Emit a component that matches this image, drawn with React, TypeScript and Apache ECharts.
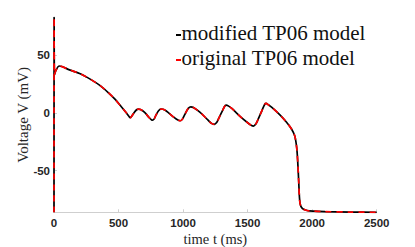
import React, { useEffect, useRef } from "react";
import * as echarts from "echarts";

const timeMs: number[] = [0, 1, 4, 12, 41, 120, 203, 290, 358, 420, 470, 520, 560, 580, 591, 602, 620, 640, 655, 670, 700, 740, 755, 763, 775, 790, 810, 828, 845, 870, 930, 960, 978, 995, 1020, 1040, 1060, 1080, 1132, 1190, 1220, 1241, 1260, 1280, 1310, 1325, 1334, 1350, 1380, 1450, 1510, 1530, 1545, 1562, 1580, 1615, 1632, 1643, 1660, 1690, 1752, 1800, 1840, 1865, 1880, 1888, 1896, 1906, 1925, 1960, 2009, 2100, 2300, 2500];
const modifiedV: number[] = [-86.2, 82.7, 33, 36, 40.5, 37.2, 33.8, 28.5, 23.5, 17.5, 12, 5.5, 0, -3, -4.3, -3, 0, 2.6, 3.2, 2.8, 0.5, -4.5, -6, -6.3, -5.5, -2, 1.8, 3.2, 3, 1.5, -4, -6.3, -6.9, -5.5, 0, 3.8, 5.2, 4.5, 0.3, -6, -9.2, -10, -8.5, -4, 3, 6, 6.7, 6, 3.5, -4, -9.5, -11, -11.5, -10, -6, 3, 7.2, 8.1, 7, 4.5, -2, -8, -14, -20, -30, -42, -60, -78.5, -83, -84.6, -85.2, -85.6, -86, -86.2];
const originalV: number[] = [-86.2, 82.7, 33, 36, 40.5, 37.2, 33.8, 28.5, 23.5, 17.5, 12, 5.5, 0, -3, -4.3, -3, 0, 2.6, 3.2, 2.8, 0.5, -4.5, -6, -6.3, -5.5, -2, 1.8, 3.2, 3, 1.5, -4, -6.3, -6.9, -5.5, 0, 3.8, 5.2, 4.5, 0.3, -6, -9.2, -10, -8.5, -4, 3, 6, 6.7, 6, 3.5, -4, -9.5, -11, -11.5, -10, -6, 3, 7.2, 8.1, 7, 4.5, -2, -8, -14, -20, -30, -42, -60, -78.5, -83, -84.6, -85.2, -85.6, -86, -86.2];
const yTicks: number[] = [-50, 0, 50];
const seriesNames: string[] = ["modified TP06 model", "original TP06 model"];
const seriesColors: string[] = ["#000000", "#ff0000"];

export default function App() {
  const ref = useRef<HTMLDivElement>(null);
  useEffect(() => {
    if (!ref.current) return;
    const chart = echarts.init(ref.current, null, { renderer: "svg" });
    const serif = "Times New Roman";
    const sans = "Arial";
    const legendGraphics: any[] = [];
    seriesNames.forEach((name, i) => {
      const cy = 35 + i * 25;
      legendGraphics.push({
        type: "rect",
        shape: { x: 176, y: cy - 1, width: 5, height: 2 },
        style: { fill: seriesColors[i] },
      });
      legendGraphics.push({
        type: "text",
        x: 181.5,
        y: cy - 2.5,
        style: { text: name, font: "21px 'Times New Roman', 'Liberation Serif', serif", fill: "#111111", align: "left", verticalAlign: "middle" },
      });
    });
    chart.setOption({
      animation: false,
      backgroundColor: "#ffffff",
      grid: { left: 54, right: 38.3, top: 17.3, bottom: 34.7, containLabel: false, outerBoundsMode: "none" },
      graphic: legendGraphics,
      xAxis: {
        type: "value",
        min: 0,
        max: 2500,
        interval: 500,
        name: "time t (ms)",
        nameLocation: "middle",
        nameGap: 19,
        nameMoveOverlap: false,
        nameTextStyle: { fontFamily: serif, fontSize: 14.5, color: "#262626" },
        axisLine: { show: true, onZero: false, lineStyle: { color: "#cfcfcf", width: 1 } },
        axisTick: { show: true, inside: true, length: 3, lineStyle: { color: "#cfcfcf" } },
        axisLabel: { fontFamily: sans, fontWeight: "bold", fontSize: 11.5, color: "#262626", margin: 5, formatter: (v: number) => String(v) },
        splitLine: { show: false },
      },
      yAxis: {
        type: "value",
        min: -86.2,
        max: 82.7,
        name: "Voltage V (mV)",
        nameLocation: "middle",
        nameGap: 24,
        nameMoveOverlap: false,
        nameRotate: 90,
        nameTextStyle: { fontFamily: serif, fontSize: 15, color: "#262626" },
        axisLine: { show: true, onZero: false, lineStyle: { color: "#cfcfcf", width: 1 } },
        axisTick: { show: true, inside: true, length: 3, customValues: yTicks, lineStyle: { color: "#cfcfcf" } },
        axisLabel: { fontFamily: sans, fontWeight: "bold", fontSize: 11.5, color: "#262626", margin: 4, customValues: yTicks, formatter: (v: number) => String(v) },
        splitLine: { show: false },
      },
      series: [
        {
          name: seriesNames[0],
          type: "line",
          data: timeMs.map((t, i) => [t, modifiedV[i]]),
          showSymbol: false,
          smooth: 0.3,
          color: seriesColors[0],
          lineStyle: { color: seriesColors[0], width: 1.7 },
          z: 2,
        },
        {
          name: seriesNames[1],
          type: "line",
          data: timeMs.map((t, i) => [t, originalV[i]]),
          showSymbol: false,
          smooth: 0.3,
          color: seriesColors[1],
          lineStyle: { color: seriesColors[1], width: 1.7, type: [6, 5] },
          z: 3,
        },
      ],
    });
    return () => chart.dispose();
  }, []);
  return <div ref={ref} style={{ position: "fixed", left: 0, top: 0, width: 415, height: 247 }} />;
}
